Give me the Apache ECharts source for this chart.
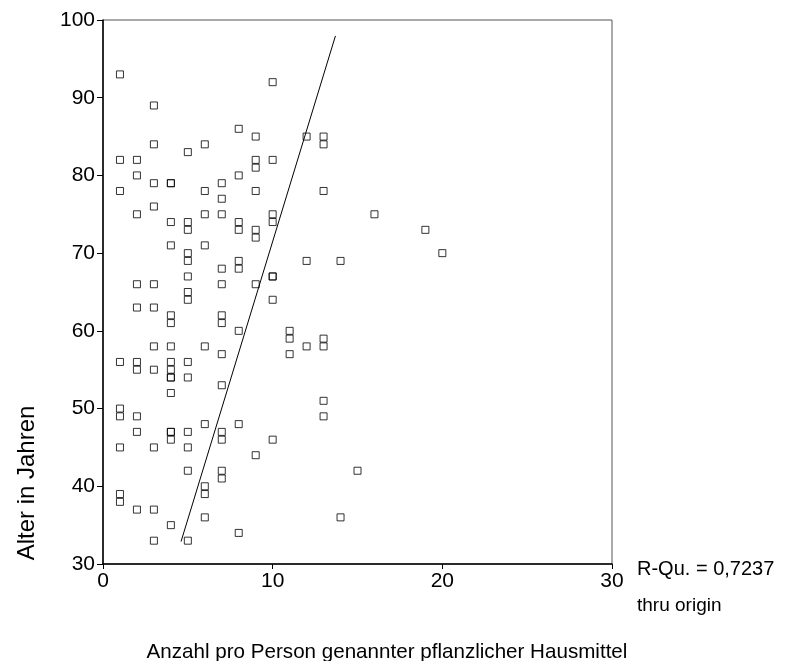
<!DOCTYPE html>
<html>
<head>
<meta charset="utf-8">
<script src="https://cdn.jsdelivr.net/npm/echarts@6/dist/echarts.min.js"></script>
<style>
html,body{margin:0;padding:0;background:#fff;}
#chart{width:808px;height:661px;}
</style>
</head>
<body>
<div id="chart"></div>
<script>
// Anzahl pro Person genannter pflanzlicher Hausmittel (x) and Alter in Jahren (y)
const anzahl = [
  1,1,1,1,1,1,1,1,1,
  2,2,2,2,2,2,2,2,2,2,
  3,3,3,3,3,3,3,3,3,3,3,
  4,4,4,4,4,4,4,4,4,4,4,4,4,4,4,4,
  5,5,5,5,5,5,5,5,5,5,5,5,5,5,
  6,6,6,6,6,6,6,6,6,
  7,7,7,7,7,7,7,7,7,7,7,7,7,
  8,8,8,8,8,8,8,8,8,
  9,9,9,9,9,9,9,9,
  10,10,10,10,10,10,10,10,
  11,11,11,
  12,12,12,
  13,13,13,13,13,13,13,
  14,14,
  15,
  16,
  19,
  20
];
const alter = [
  93,82,78,56,50,49,45,39,38,
  82,80,75,66,63,56,55,49,47,37,
  89,84,79,76,66,63,58,55,45,37,33,
  79,79,74,71,62,61,58,56,55,54,54,52,47,47,46,35,
  83,74,73,70,69,67,65,64,56,54,47,45,42,33,
  84,78,75,71,58,48,40,39,36,
  79,77,75,68,66,62,61,57,53,47,46,42,41,
  86,80,74,73,69,68,60,48,34,
  85,82,81,78,73,72,66,44,
  92,82,75,74,67,67,64,46,
  60,59,57,
  85,69,58,
  85,84,78,59,58,51,49,
  69,36,
  42,
  75,
  73,
  70
];
// Linear fit through origin: Alter = slope * Anzahl
const fitSlope = 7.15;
const fitXRange = [4.6, 13.7];
const xTicks = [0, 10, 20, 30];
const yTicks = [30, 40, 50, 60, 70, 80, 90, 100];
const rSquaredText = 'R-Qu. = 0,7237';
const fitNote = 'thru origin';
const xName = 'Anzahl pro Person genannter pflanzlicher Hausmittel';
const yName = 'Alter in Jahren';

const points = anzahl.map((x, i) => [x, alter[i]]);
const fitLine = fitXRange.map(x => [x, fitSlope * x]);

const FONT = '"Liberation Sans", Arial, sans-serif';
const chart = echarts.init(document.getElementById('chart'), null, {renderer: 'canvas'});
chart.setOption({
  animation: false,
  backgroundColor: '#fff',
  grid: {left: 103, top: 20, width: 509, height: 544, show: true, borderColor: '#555', borderWidth: 1, backgroundColor: 'transparent'},
  xAxis: {
    type: 'value', min: xTicks[0], max: xTicks[xTicks.length - 1], interval: 10,
    axisLine: {show: true, lineStyle: {color: '#000', width: 1.5}},
    axisTick: {show: true, inside: false, length: 5, lineStyle: {color: '#000'}},
    axisLabel: {color: '#000', fontFamily: FONT, fontSize: 21, margin: 7},
    splitLine: {show: false}
  },
  yAxis: {
    type: 'value', min: yTicks[0], max: yTicks[yTicks.length - 1], interval: 10,
    axisLine: {show: true, lineStyle: {color: '#000', width: 1.5}},
    axisTick: {show: true, inside: false, length: 6, lineStyle: {color: '#000'}},
    axisLabel: {color: '#000', fontFamily: FONT, fontSize: 21, margin: 8},
    splitLine: {show: false}
  },
  series: [
    {
      type: 'scatter', data: points, symbol: 'rect', symbolSize: 7,
      itemStyle: {color: 'rgba(255,255,255,0)', borderColor: '#000', borderWidth: 1},
      silent: true
    },
    {
      type: 'line', data: fitLine, symbol: 'none', silent: true,
      lineStyle: {color: '#000', width: 1}
    }
  ],
  graphic: [
    {type: 'text', x: 637, y: 569, style: {text: rSquaredText, font: '20px ' + FONT, fill: '#000', textVerticalAlign: 'middle'}},
    {type: 'text', x: 637, y: 606, style: {text: fitNote, font: '19px ' + FONT, fill: '#000', textVerticalAlign: 'middle'}},
    {type: 'text', x: 387, y: 652, style: {text: xName, font: '20.6px ' + FONT, fill: '#000', textAlign: 'center', textVerticalAlign: 'middle'}},
    {type: 'text', x: 27, y: 483, rotation: Math.PI / 2, style: {text: yName, font: '24px ' + FONT, fill: '#000', textAlign: 'center', textVerticalAlign: 'middle'}}
  ]
});
</script>
</body>
</html>
